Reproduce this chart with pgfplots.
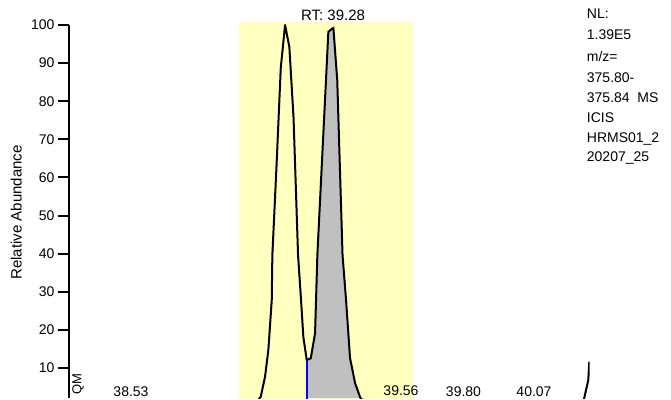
\documentclass[border=0pt]{standalone}
\usepackage{fontspec}
\setmainfont{Liberation Sans}
\usepackage{pgfplots}
\usepackage{pgfplotstable}
\pgfplotsset{compat=1.18}
\definecolor{band}{RGB}{255,255,192}
\definecolor{peakgray}{RGB}{192,192,192}
\newcommand{\fs}[1]{\fontsize{#1}{#1}\selectfont}

\pgfplotstableread{
t y
38.293 0.3
38.40 0.4
38.53 0.9
38.60 0.3
38.80 0.4
38.95 0.3
39.0071 0.8
39.0250 2.44
39.0414 7.69
39.0540 14.70
39.0670 27.82
39.0693 39.63
39.0850 62.73
39.1014 88.71
39.1178 100.0
39.1342 94.23
39.1502 75.59
39.1674 39.63
39.1788 27.82
39.1876 18.11
39.2006 12.07
39.2159 12.52
39.2323 19.08
39.2411 39.63
39.2831 98.24
39.3022 99.29
39.3170 85.56
39.3372 39.63
39.3506 27.82
39.3658 12.60
39.3849 6.04
39.4040 2.36
39.4193 0.52
39.48 0.3
39.5605 0.9
39.65 0.3
39.80 0.8
39.90 0.3
40.07 0.9
40.15 0.3
40.2437 0.1
40.2540 0.3
40.2754 6.82
40.2792 11.63
}\chrom

\pgfplotstableread{
t y
39.2006 12.07
39.2159 12.52
39.2323 19.08
39.2411 39.63
39.2831 98.24
39.3022 99.29
39.3170 85.56
39.3372 39.63
39.3506 27.82
39.3658 12.60
39.3849 6.04
39.4040 2.36
39.4193 0.52
}\peakB

\begin{document}
\begin{tikzpicture}
\begin{axis}[
  at={(0pt,0pt)}, anchor=south west,
  scale only axis, width=520.5pt, height=376pt,
  xmin=38.293, xmax=40.28, ymin=2.0997, ymax=100.79,
  axis x line=none, axis y line=left,
  y axis line style={-, line width=2.4pt, shorten >=3pt},
  ytick={10,20,...,100},
  tick align=outside, major tick length=11pt,
  tick style={line width=2pt, black},
  yticklabel style={font=\fs{14}},
  /pgf/number format/assume math mode=true,
  ylabel={Relative Abundance},
  ylabel style={at={(axis description cs:-0.1014,0.4934)}, anchor=center, font=\fs{15}},
  clip mode=individual,
]
\addplot[draw=none, fill=band] coordinates {(38.9433,0) (38.9433,100.79) (39.6063,100.79) (39.6063,0)};
\addplot[draw=none, fill=peakgray] table {\peakB} \closedcycle;
\addplot[blue, line width=2pt] coordinates {(39.2006,0) (39.2006,12.07)};
\addplot[black, line width=2pt, line join=round] table {\chrom};
\end{axis}
\begin{scope}[every node/.style={inner sep=0pt}]
\node[anchor=base, font=\fs{15}] at (264pt,377.5pt) {RT: 39.28};
\node[anchor=base, font=\fs{14}] at (62pt,1.3pt) {38.53};
\node[anchor=base, font=\fs{14}] at (332pt,2.6pt) {39.56};
\node[anchor=base, font=\fs{14}] at (394.5pt,1.3pt) {39.80};
\node[anchor=base, font=\fs{14}] at (465pt,1.3pt) {40.07};
\node[rotate=90, anchor=center, font=\fs{13}] at (9pt,14pt) {QM};
\node[anchor=base west, font=\fs{14}] at (517.7pt,379.7pt) {NL:};
\node[anchor=base west, font=\fs{14}] at (517.7pt,358.7pt) {1.39E5};
\node[anchor=base west, font=\fs{14}] at (517.7pt,336pt) {m/z=};
\node[anchor=base west, font=\fs{14}] at (517.7pt,315.3pt) {375.80-};
\node[anchor=base west, font=\fs{14}] at (517.7pt,295.3pt) {375.84\ \ MS};
\node[anchor=base west, font=\fs{14}] at (517.7pt,275.3pt) {ICIS};
\node[anchor=base west, font=\fs{14}] at (517.7pt,255.3pt) {HRMS01\_2};
\node[anchor=base west, font=\fs{14}] at (517.7pt,236pt) {20207\_25};
\end{scope}
\path (-69pt,0pt) rectangle (602pt,398pt);
\end{tikzpicture}
\end{document}
